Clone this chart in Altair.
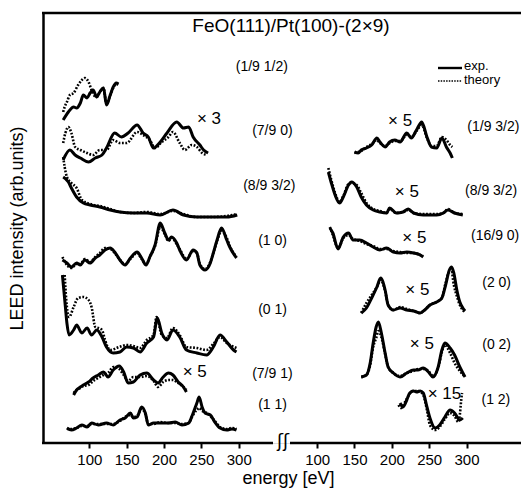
import altair as alt
import pandas as pd

OFFSET = 305  # energy shift that places the right-hand panel after the axis break

# ---------------- left panel ----------------
# (1/9 1/2)
l1_E_exp = [65, 72, 79, 83, 88, 92, 97, 101, 105, 110, 114, 119, 123, 128, 132, 136, 139]
l1_exp = [323, 331, 336, 335, 340, 348, 345, 350, 353, 346, 351, 355, 338, 348, 356, 360, 359]
l1_E_th = [65, 67, 70, 74, 79, 85, 90, 94, 99, 103, 107, 110, 114, 119, 123, 128, 132, 136, 139]
l1_th = [331, 336, 341, 348, 350, 358, 363, 365, 361, 353, 347, 346, 351, 355, 339, 348, 355, 359, 358]
# (7/9 0)  x3
l2_E_exp = [65, 74, 81, 88, 99, 108, 117, 123, 134, 143, 152, 164, 172, 179, 186, 195, 204, 217, 226, 233, 239, 248, 253, 259]
l2_exp = [283, 293, 288, 285, 281, 285, 288, 295, 310, 306, 310, 318, 310, 306, 295, 301, 310, 321, 315, 316, 306, 298, 293, 290]
l2_E_th = [65, 68, 72, 76, 81, 88, 97, 105, 114, 123, 132, 141, 150, 164, 172, 181, 188, 197, 206, 212, 221, 228, 237, 244, 251, 257]
l2_th = [300, 310, 316, 310, 296, 293, 290, 288, 293, 293, 303, 300, 300, 311, 308, 303, 295, 301, 306, 311, 300, 293, 298, 296, 290, 288]
# (8/9 3/2)
l3_E_exp = [65, 72, 76, 83, 92, 101, 114, 128, 141, 159, 177, 195, 212, 226, 244, 266, 284, 298]
l3_exp = [266, 261, 255, 246, 240, 238, 236, 233, 231, 230, 230, 228, 233, 228, 226, 226, 226, 228]
l3_E_th = [65, 67, 70, 76, 83, 90, 101, 114, 128, 141, 159, 177, 195, 212, 226, 244, 266, 284, 298]
l3_th = [286, 276, 266, 260, 255, 243, 239, 237, 234, 231, 230, 231, 229, 232, 229, 226, 226, 227, 229]
# (1 0)
l4_E = [64, 70, 76, 83, 88, 94, 101, 108, 114, 121, 128, 134, 141, 148, 155, 164, 170, 176, 181, 188, 195, 201, 206, 210, 217, 221, 230, 239, 244, 248, 255, 262, 266, 271, 277, 284, 288, 297]
l4_exp = [183, 180, 176, 180, 178, 183, 180, 185, 188, 193, 195, 191, 183, 178, 185, 191, 185, 178, 186, 198, 220, 210, 203, 206, 200, 193, 183, 193, 190, 178, 173, 180, 190, 203, 215, 203, 196, 185]
l4_th = [186, 178, 175, 179, 179, 184, 181, 186, 190, 195, 194, 190, 183, 179, 184, 190, 184, 179, 186, 197, 216, 209, 202, 205, 199, 194, 184, 192, 190, 179, 174, 181, 190, 202, 212, 205, 197, 186]
# (0 1)
l5_E_exp = [64, 68, 70, 73, 79, 83, 90, 97, 103, 110, 117, 123, 132, 141, 150, 159, 168, 177, 186, 191, 197, 204, 212, 221, 230, 244, 257, 266, 275, 284, 293, 297]
l5_exp = [168, 136, 120, 108, 113, 118, 110, 115, 108, 113, 106, 96, 90, 91, 96, 95, 91, 100, 106, 125, 110, 103, 113, 106, 93, 90, 88, 96, 108, 101, 93, 91]
l5_E_th = [67, 70, 73, 79, 85, 92, 99, 103, 108, 112, 117, 121, 128, 140, 150, 159, 168, 177, 186, 190, 197, 204, 212, 221, 230, 244, 257, 266, 275, 284, 297]
l5_th = [168, 136, 126, 136, 145, 146, 143, 136, 116, 115, 113, 103, 93, 96, 98, 97, 95, 103, 108, 126, 108, 105, 115, 108, 96, 95, 93, 99, 106, 100, 95]
# (7/9 1)  x5
l6_E = [79, 83, 88, 92, 99, 105, 112, 119, 125, 132, 140, 146, 152, 159, 168, 177, 186, 192, 199, 206, 212, 219, 226, 230]
l6_exp = [48, 53, 56, 58, 61, 65, 68, 71, 66, 73, 77, 71, 60, 61, 68, 70, 63, 60, 66, 70, 68, 61, 56, 51]
l6_th = [50, 53, 55, 57, 58, 62, 65, 68, 70, 76, 74, 68, 62, 66, 66, 67, 62, 56, 61, 63, 63, 60, 56, 53]
# (1 1)
l7_E = [70, 76, 83, 90, 97, 103, 112, 123, 132, 141, 148, 155, 159, 164, 170, 175, 179, 186, 195, 206, 215, 224, 233, 238, 244, 247, 251, 255, 262, 268, 275, 284, 291, 297]
l7_exp = [15, 13, 15, 18, 16, 20, 18, 20, 18, 23, 25, 30, 25, 26, 36, 30, 18, 20, 20, 20, 21, 18, 20, 28, 40, 46, 36, 30, 28, 21, 15, 13, 14, 13]
l7_th = [14, 14, 15, 17, 17, 19, 19, 19, 19, 22, 26, 28, 26, 27, 34, 29, 19, 19, 21, 20, 20, 19, 20, 27, 33, 35, 32, 31, 27, 22, 16, 14, 15, 14]

# ---------------- right panel ----------------
# (1/9 3/2)  x5
r1_E = [150, 155, 159, 166, 173, 180, 184, 191, 197, 204, 211, 220, 226, 233, 240, 247, 253, 260, 267, 273, 278, 281]
r1_exp = [291, 290, 293, 295, 298, 305, 301, 296, 301, 303, 301, 310, 305, 313, 321, 306, 296, 295, 305, 296, 290, 285]
r1_th = [290, 291, 292, 296, 299, 303, 300, 297, 300, 302, 302, 308, 306, 312, 318, 305, 297, 297, 306, 303, 298, 296]
# (8/9 3/2)  x5
r2_E = [115, 119, 124, 130, 135, 142, 146, 153, 159, 166, 175, 184, 193, 197, 206, 215, 222, 229, 242, 260, 269, 275, 284, 295]
r2_exp = [271, 260, 248, 240, 246, 258, 261, 256, 246, 238, 233, 231, 230, 235, 230, 231, 234, 230, 228, 228, 230, 233, 230, 228]
r2_th = [275, 263, 250, 241, 247, 259, 260, 258, 250, 240, 234, 232, 230, 234, 230, 231, 233, 230, 229, 229, 230, 234, 230, 229]
# (16/9 0)  x5
r3_E = [117, 121, 128, 135, 142, 148, 157, 166, 175, 184, 193, 202, 211, 220, 229, 238, 242]
r3_exp = [215, 210, 194, 206, 210, 203, 203, 200, 196, 193, 195, 191, 190, 191, 190, 188, 186]
r3_th = [216, 208, 195, 205, 208, 204, 202, 199, 197, 194, 194, 192, 191, 190, 190, 188, 187]
# (2 0)  x5
r4_E = [159, 166, 173, 180, 185, 191, 195, 202, 211, 220, 229, 238, 244, 251, 260, 267, 272, 277, 280, 283, 287, 291, 295, 298]
r4_exp = [130, 135, 145, 156, 165, 153, 138, 133, 135, 133, 132, 130, 133, 138, 141, 145, 158, 173, 176, 170, 153, 141, 135, 132]
r4_th = [130, 140, 148, 156, 163, 152, 138, 133, 136, 134, 132, 130, 133, 138, 141, 145, 160, 171, 171, 158, 147, 138, 133, 131]
# (0 2)  x5
r5_E = [159, 166, 171, 175, 179, 182, 186, 191, 195, 202, 211, 220, 229, 235, 242, 249, 255, 262, 267, 271, 278, 284, 291, 298]
r5_exp = [66, 68, 80, 100, 116, 121, 110, 90, 76, 70, 66, 70, 73, 73, 75, 71, 66, 76, 93, 100, 95, 88, 76, 66]
r5_th = [66, 68, 78, 96, 105, 112, 106, 89, 76, 70, 67, 70, 72, 74, 74, 72, 67, 75, 91, 98, 90, 80, 72, 66]
# (1 2)  x15
r6_E_exp = [211, 215, 220, 224, 229, 233, 238, 242, 247, 251, 258, 264, 271, 278, 284, 291, 295]
r6_exp = [40, 36, 43, 50, 52, 51, 52, 50, 36, 25, 15, 18, 26, 33, 30, 23, 25]
r6_E_th = [209, 212, 217, 222, 228, 236, 242, 247, 251, 258, 264, 271, 278, 284, 289, 291, 292, 293, 294]
r6_th = [38, 35, 40, 47, 52, 52, 48, 33, 18, 13, 16, 24, 30, 27, 21, 28, 36, 44, 50]

curves = [
    ("L(1/9 1/2)", 0, l1_E_exp, l1_exp, l1_E_th, l1_th),
    ("L(7/9 0)", 0, l2_E_exp, l2_exp, l2_E_th, l2_th),
    ("L(8/9 3/2)", 0, l3_E_exp, l3_exp, l3_E_th, l3_th),
    ("L(1 0)", 0, l4_E, l4_exp, l4_E, l4_th),
    ("L(0 1)", 0, l5_E_exp, l5_exp, l5_E_th, l5_th),
    ("L(7/9 1)", 0, l6_E, l6_exp, l6_E, l6_th),
    ("L(1 1)", 0, l7_E, l7_exp, l7_E, l7_th),
    ("R(1/9 3/2)", OFFSET, r1_E, r1_exp, r1_E, r1_th),
    ("R(8/9 3/2)", OFFSET, r2_E, r2_exp, r2_E, r2_th),
    ("R(16/9 0)", OFFSET, r3_E, r3_exp, r3_E, r3_th),
    ("R(2 0)", OFFSET, r4_E, r4_exp, r4_E, r4_th),
    ("R(0 2)", OFFSET, r5_E, r5_exp, r5_E, r5_th),
    ("R(1 2)", OFFSET, r6_E_exp, r6_exp, r6_E_th, r6_th),
]

rows = []
for name, shift, Ee, ye, Et, yt in curves:
    for i, (e, y) in enumerate(zip(Ee, ye)):
        rows.append({"curve": name, "kind": "exp", "E": e + shift, "v": y, "i": i})
    for i, (e, y) in enumerate(zip(Et, yt)):
        rows.append({"curve": name, "kind": "theory", "E": e + shift, "v": y, "i": i})
df = pd.DataFrame(rows)

# beam labels
label_text = ["(1/9 1/2)", "(7/9 0)", "(8/9 3/2)", "(1 0)", "(0 1)", "(7/9 1)", "(1 1)",
              "(1/9 3/2)", "(8/9 3/2)", "(16/9 0)", "(2 0)", "(0 2)", "(1 2)"]
label_shift = [0, 0, 0, 0, 0, 0, 0, OFFSET, OFFSET, OFFSET, OFFSET, OFFSET, OFFSET]
label_E = [296, 318, 306, 326, 326, 318, 326, 301, 298, 306, 321, 321, 320]
label_v = [376, 312, 257, 202, 133, 69, 38, 316, 252, 207, 160, 98, 43]
labels = pd.DataFrame({"text": label_text,
                       "E": [e + s for e, s in zip(label_E, label_shift)],
                       "v": label_v})

# scaling factors
factor_text = ["× 3", "× 5", "× 5", "× 5", "× 5", "× 5", "× 5", "× 15"]
factor_shift = [0, 0, OFFSET, OFFSET, OFFSET, OFFSET, OFFSET, OFFSET]
factor_E = [244, 225, 195, 204, 214, 218, 224, 248]
factor_v = [324, 71, 322, 251, 205, 153, 99, 49]
factors = pd.DataFrame({"text": factor_text,
                        "E": [e + s for e, s in zip(factor_E, factor_shift)],
                        "v": factor_v})

W, H = 478, 430
FONT = "Liberation Sans"

tick_values = [100, 150, 200, 250, 300, 100 + OFFSET, 150 + OFFSET, 200 + OFFSET, 250 + OFFSET, 300 + OFFSET]

X = alt.X("E:Q",
          scale=alt.Scale(domain=[38, 677.9], nice=False, zero=False),
          axis=alt.Axis(values=tick_values,
                        labelExpr=f"datum.value > 350 ? datum.value - {OFFSET} : datum.value",
                        domain=False, grid=False, ticks=True, tickSize=5, tickWidth=2,
                        tickColor="black", labelColor="black", labelFontSize=15,
                        labelPadding=4, labelFont=FONT,
                        title="energy [eV]", titleFontSize=18, titleFontWeight="normal",
                        titleColor="black", titlePadding=2, titleX=245, titleFont=FONT))
Y = alt.Y("v:Q",
          scale=alt.Scale(domain=[0, 430], nice=False, zero=False),
          axis=alt.Axis(labels=False, ticks=False, grid=False, domain=True,
                        domainWidth=2.5, domainColor="black",
                        title="LEED intensity (arb.units)", titleFontSize=18,
                        titleFontWeight="normal", titleColor="black",
                        titlePadding=17, titleFont=FONT))

exp_lines = alt.Chart(df).transform_filter(alt.datum.kind == "exp").mark_line(
    color="black", strokeWidth=3, interpolate="monotone").encode(
    x=X, y=Y, detail="curve:N", order="i:Q")
th_lines = alt.Chart(df).transform_filter(alt.datum.kind == "theory").mark_line(
    color="black", strokeWidth=2.6, strokeDash=[1.8, 1.6], interpolate="monotone").encode(
    x=X, y=Y, detail="curve:N", order="i:Q")

label_layer = alt.Chart(labels).mark_text(align="left", baseline="middle", fontSize=14,
                                          font=FONT, color="black").encode(x=X, y=Y, text="text:N")
factor_layer = alt.Chart(factors).mark_text(align="left", baseline="middle", fontSize=17,
                                            font=FONT, color="black").encode(x=X, y=Y, text="text:N")

title_layer = alt.Chart(pd.DataFrame({"t": ["FeO(111)/Pt(100)-(2×9)"]})).mark_text(
    align="center", baseline="middle", fontSize=19, font=FONT, color="black").encode(
    x=alt.value(248), y=alt.value(13), text="t:N")

# frame: top edge and the broken bottom edge
top_rule = alt.Chart(pd.DataFrame({"a": [0]})).mark_rule(color="black", strokeWidth=2.5).encode(
    x=alt.value(-1), x2=alt.value(W), y=alt.value(0))
bottom_left = alt.Chart(pd.DataFrame({"a": [0]})).mark_rule(color="black", strokeWidth=2.5).encode(
    x=alt.value(-1), x2=alt.value(230), y=alt.value(H))
bottom_right = alt.Chart(pd.DataFrame({"a": [0]})).mark_rule(color="black", strokeWidth=2.5).encode(
    x=alt.value(247), x2=alt.value(W), y=alt.value(H))
break_mark = alt.Chart(pd.DataFrame({"t": ["ʃʃ"]})).mark_text(
    align="center", baseline="middle", fontSize=18, font="DejaVu Sans", color="black").encode(
    x=alt.value(240), y=alt.value(H - 1), text="t:N")

# legend
leg_exp = alt.Chart(pd.DataFrame({"a": [0]})).mark_rule(color="black", strokeWidth=2.4).encode(
    x=alt.value(395), x2=alt.value(419), y=alt.value(55))
leg_th = alt.Chart(pd.DataFrame({"a": [0]})).mark_rule(color="black", strokeWidth=1.6,
                                                       strokeDash=[1.5, 1.2]).encode(
    x=alt.value(395), x2=alt.value(419), y=alt.value(68))
leg_text = alt.Chart(pd.DataFrame({"t": ["exp.", "theory"], "y": [53, 67]})).mark_text(
    align="left", baseline="middle", fontSize=13, font=FONT, color="black").encode(
    x=alt.value(421), y=alt.Y("y:Q", scale=None), text="t:N")

chart = alt.layer(exp_lines, th_lines, label_layer, factor_layer, title_layer,
                  top_rule, bottom_left, bottom_right, break_mark,
                  leg_exp, leg_th, leg_text).properties(
    width=W, height=H,
    autosize=alt.AutoSizeParams(type="none"),
    padding={"left": 35, "top": 5, "right": 0, "bottom": 46},
).configure_view(stroke=None).configure(font=FONT)

chart.save("out.html", embed_options={"renderer": "svg", "actions": False})
